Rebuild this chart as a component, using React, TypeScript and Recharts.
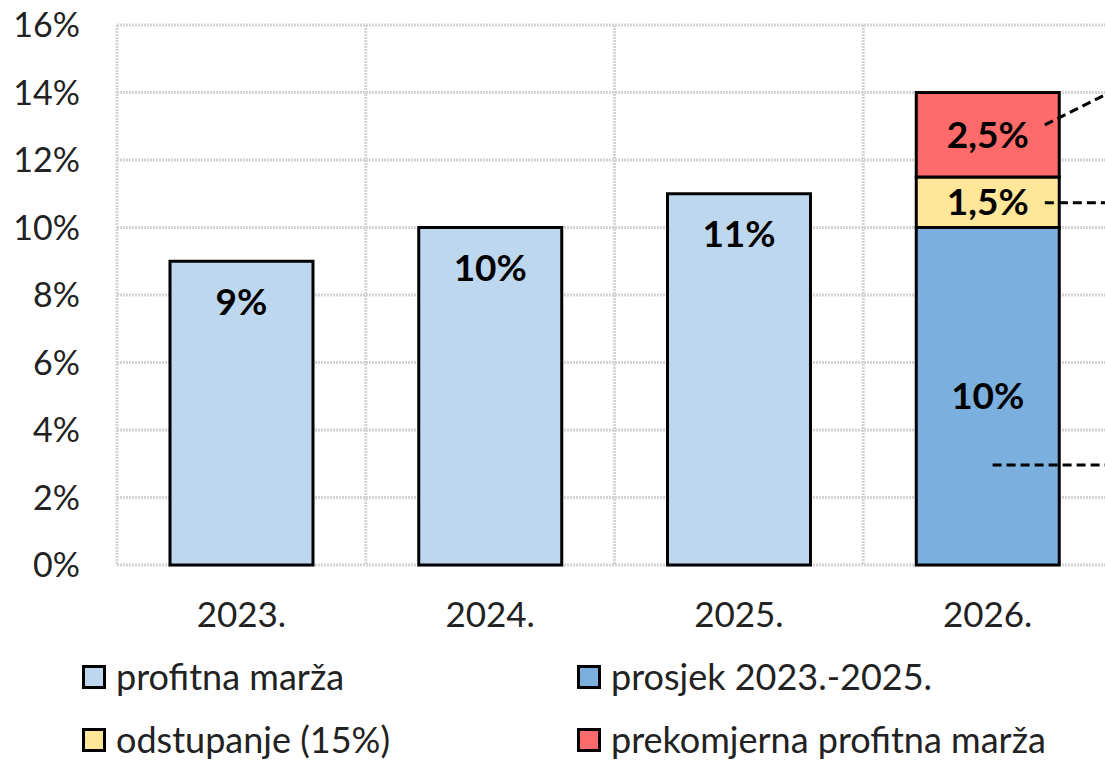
import {
  BarChart, Bar, XAxis, YAxis, CartesianGrid, Legend, LabelList, ReferenceLine,
} from 'recharts';

const years = ['2023.', '2024.', '2025.', '2026.'];
const profitnaMarza = [9, 10, 11, null];
const prosjek = [null, null, null, 10];
const odstupanje = [null, null, null, 1.5];
const prekomjerna = [null, null, null, 2.5];
const yTicks = [0, 2, 4, 6, 8, 10, 12, 14, 16];

const series = [
  { key: 'profitna', name: 'profitna marža', colour: '#BDD7EE' },
  { key: 'prosjek', name: 'prosjek 2023.-2025.', colour: '#7BAFDE' },
  { key: 'odstupanje', name: 'odstupanje (15%)', colour: '#FFE699' },
  { key: 'prekomjerna', name: 'prekomjerna profitna marža', colour: '#FF6B6B' },
];

// leader lines towards the (cropped) annotations on the right
const leaders = [
  [{ x: 3.73, y: 13.04 }, { x: 4.1, y: 14.4 }],
  [{ x: 3.73, y: 10.73 }, { x: 4.1, y: 10.73 }],
  [{ x: 3.52, y: 2.96 }, { x: 4.1, y: 2.96 }],
];

const data = years.map((y, i) => ({
  year: y,
  idx: i + 0.5,
  profitna: profitnaMarza[i],
  prosjek: prosjek[i],
  odstupanje: odstupanje[i],
  prekomjerna: prekomjerna[i],
}));

const pct = (v: unknown) => (v == null ? '' : `${String(v).replace('.', ',')}%`);

const labelStyle = { fontSize: 37, fontWeight: 700, fill: '#000' };

function LegendBox() {
  return (
    <div style={{ position: 'relative', height: 130, fontFamily: 'Lato', fontSize: 36, color: '#222', lineHeight: 1.15 }}>
      {series.map((s, i) => (
        <div
          key={s.key}
          style={{
            position: 'absolute',
            left: i % 2 === 0 ? 82 : 577,
            top: i < 2 ? 24 : 87,
            display: 'flex',
            alignItems: 'center',
            whiteSpace: 'nowrap',
          }}
        >
          <span style={{
            width: 18, height: 18, background: s.colour, border: '3px solid #000', marginRight: 10,
            display: 'inline-block',
          }} />
          <span>{s.name}</span>
        </div>
      ))}
    </div>
  );
}

export default function App() {
  return (
    <div style={{
      position: 'absolute', left: 0, top: 0, width: 1105, height: 762, overflow: 'hidden',
      background: '#fff', fontFamily: 'Lato',
    }}>
      <BarChart
        width={1122}
        height={762}
        data={data}
        margin={{ top: 25, right: 10, bottom: 0, left: 0 }}
        barSize={143}
      >
        <CartesianGrid
          stroke="#d4d4d4"
          strokeWidth={3}
          strokeDasharray="2 1"
          verticalCoordinatesGenerator={({ offset }: any) =>
            [0, 1, 2, 3, 4].map((i) => offset.left + (i * offset.width) / 4)}
        />
        <XAxis
          dataKey="year"
          axisLine={false}
          tickLine={false}
          tickSize={0}
          tickMargin={37}
          height={67}
          tick={{ fontSize: 35, fill: '#222' }}
        />
        <XAxis xAxisId="n" type="number" dataKey="idx" domain={[0, 4]} hide />
        <YAxis
          domain={[0, 16]}
          ticks={yTicks}
          tickFormatter={(v) => `${v}%`}
          axisLine={false}
          tickLine={false}
          tickSize={0}
          tickMargin={37}
          width={117}
          tick={{ fontSize: 34, fill: '#222' }}
        />
        <Legend verticalAlign="bottom" content={() => <LegendBox />} />
        <Bar dataKey="profitna" name="profitna marža" stackId="a" fill={series[0].colour}
          stroke="#000" strokeWidth={3} isAnimationActive={false}>
          <LabelList dataKey="profitna" position="insideTop" offset={27} formatter={pct} style={labelStyle} />
        </Bar>
        <Bar dataKey="prosjek" name="prosjek 2023.-2025." stackId="a" fill={series[1].colour}
          stroke="#000" strokeWidth={3} isAnimationActive={false}>
          <LabelList dataKey="prosjek" position="center" formatter={pct} style={labelStyle} />
        </Bar>
        <Bar dataKey="odstupanje" name="odstupanje (15%)" stackId="a" fill={series[2].colour}
          stroke="#000" strokeWidth={3} isAnimationActive={false}>
          <LabelList dataKey="odstupanje" position="center" formatter={pct} style={labelStyle} />
        </Bar>
        <Bar dataKey="prekomjerna" name="prekomjerna profitna marža" stackId="a" fill={series[3].colour}
          stroke="#000" strokeWidth={3} isAnimationActive={false}>
          <LabelList dataKey="prekomjerna" position="center" formatter={pct} style={labelStyle} />
        </Bar>
        {leaders.map((seg, i) => (
          <ReferenceLine
            key={i}
            xAxisId="n"
            segment={seg}
            stroke="#000"
            strokeWidth={3}
            strokeDasharray="9 5"
            ifOverflow="visible"
          />
        ))}
      </BarChart>
    </div>
  );
}
